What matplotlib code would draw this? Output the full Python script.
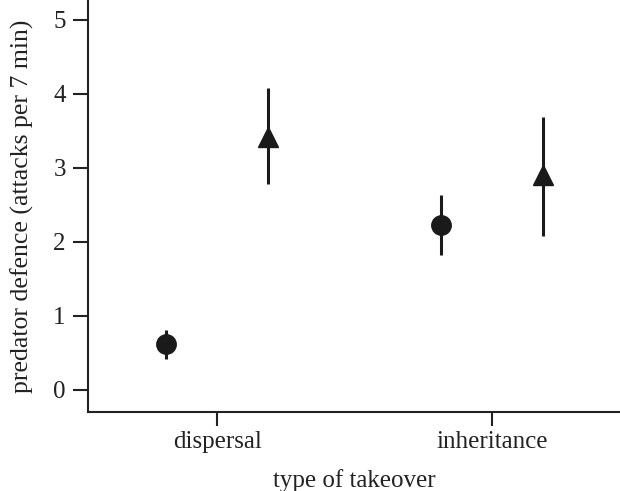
import matplotlib
matplotlib.use("Agg")
import matplotlib.pyplot as plt

#Data
categories = ["dispersal", "inheritance"]
circle_mean = [0.62, 2.23]
circle_low = [0.42, 1.82]
circle_high = [0.81, 2.64]
triangle_mean = [3.42, 2.90]
triangle_low = [2.78, 2.08]
triangle_high = [4.08, 3.69]

plt.rcParams["font.family"] = ["Liberation Serif", "DejaVu Serif"]

fig = plt.figure(figsize=(6.2, 4.91), dpi=100)
ax = fig.add_axes([0.142, 0.161, 0.858, 0.839])

pos = list(range(len(categories)))
off = 0.185

#Circles (left of each category)
cx = [p - off for p in pos]
cerr = [[m - l for m, l in zip(circle_mean, circle_low)],
        [h - m for m, h in zip(circle_mean, circle_high)]]
ax.errorbar(cx, circle_mean, yerr=cerr, fmt="o", color="#1a1a1a",
            markersize=14, elinewidth=2.2, capsize=0)

#Triangles (right of each category)
tx = [p + off for p in pos]
terr = [[m - l for m, l in zip(triangle_mean, triangle_low)],
        [h - m for m, h in zip(triangle_mean, triangle_high)]]
ax.errorbar(tx, triangle_mean, yerr=terr, fmt="^", color="#1a1a1a",
            markersize=15, elinewidth=2.2, capsize=0)

ax.set_xlim(-0.47, 1.465)
ax.set_ylim(-0.3, 5.27)
ax.set_xticks(pos)
ax.set_xticklabels(categories)
ax.set_yticks([0, 1, 2, 3, 4, 5])

ax.spines["top"].set_visible(False)
ax.spines["right"].set_visible(False)
for s in ["left", "bottom"]:
    ax.spines[s].set_linewidth(1.5)
    ax.spines[s].set_color("#222222")

ax.tick_params(axis="y", direction="out", length=11, width=1.5, pad=5,
               labelsize=18, colors="#222222")
ax.tick_params(axis="x", direction="out", length=10, width=1.5, pad=4,
               labelsize=18, colors="#222222")

ax.set_xlabel("type of takeover", fontsize=18, color="#222222", labelpad=11)
ax.set_ylabel("predator defence (attacks per 7 min)", fontsize=18.5,
              color="#222222", labelpad=14)

fig.savefig("out.png", dpi=100)
